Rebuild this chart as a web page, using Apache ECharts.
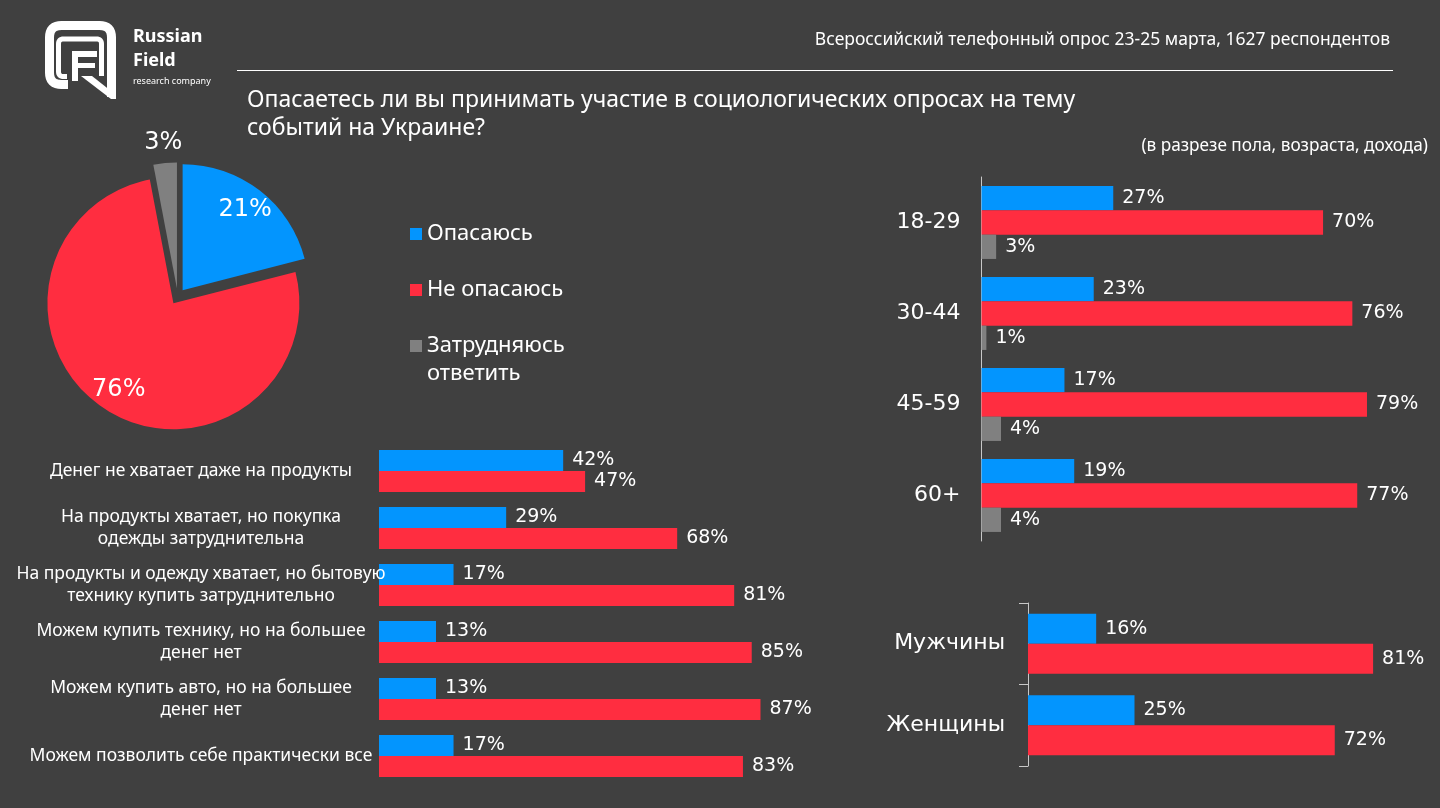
<!DOCTYPE html>
<html>
<head>
<meta charset="utf-8">
<script src="https://cdn.jsdelivr.net/npm/echarts@6/dist/echarts.min.js"></script>
<style>
html,body{margin:0;padding:0;background:#404040;}
#chart{width:1440px;height:808px;}
</style>
</head>
<body>
<div id="chart"></div>
<script>
// ---------- data ----------
const pieNames = ['Опасаюсь', 'Не опасаюсь', 'Затрудняюсь\nответить'];
const pieValues = [21, 76, 3];

const incomeCategories = [
  'Денег не хватает даже на продукты',
  'На продукты хватает, но покупка\nодежды затруднительна',
  'На продукты и одежду хватает, но бытовую\nтехнику купить затруднительно',
  'Можем купить технику, но на большее\nденег нет',
  'Можем купить авто, но на большее\nденег нет',
  'Можем позволить себе практически все'
];
const incomeAfraid = [42, 29, 17, 13, 13, 17];
const incomeNotAfraid = [47, 68, 81, 85, 87, 83];

const ageCategories = ['18-29', '30-44', '45-59', '60+'];
const ageAfraid = [27, 23, 17, 19];
const ageNotAfraid = [70, 76, 79, 77];
const ageUnsure = [3, 1, 4, 4];

const genderCategories = ['Мужчины', 'Женщины'];
const genderAfraid = [16, 25];
const genderNotAfraid = [81, 72];

const BLUE = '#0395fe', RED = '#ff2d40', GRAY = '#808080', BG = '#404040';
const NUM_FONT = 'DejaVu Sans', TXT_FONT = 'Noto Sans';

// ---------- helpers ----------
// rounded polyline through corner points (for the logo outline)
function roundedPath(pts, r) {
  const out = [pts[0]];
  for (let i = 1; i < pts.length - 1; i++) {
    const p0 = pts[i - 1], p = pts[i], p1 = pts[i + 1];
    const d0 = [p0[0] - p[0], p0[1] - p[1]], d1 = [p1[0] - p[0], p1[1] - p[1]];
    const l0 = Math.hypot(d0[0], d0[1]), l1 = Math.hypot(d1[0], d1[1]);
    const a = [p[0] + d0[0] / l0 * r, p[1] + d0[1] / l0 * r];
    const b = [p[0] + d1[0] / l1 * r, p[1] + d1[1] / l1 * r];
    for (let k = 0; k <= 8; k++) {
      const t = k / 8;
      out.push([(1 - t) * (1 - t) * a[0] + 2 * (1 - t) * t * p[0] + t * t * b[0],
                (1 - t) * (1 - t) * a[1] + 2 * (1 - t) * t * p[1] + t * t * b[1]]);
    }
  }
  out.push(pts[pts.length - 1]);
  return out;
}

// ---------- chart ----------
const chart = echarts.init(document.getElementById('chart'), null, {renderer: 'canvas'});

function valueLabel() {
  return {show: true, position: 'right', distance: 9, formatter: '{c}%', color: '#fff',
    fontSize: 19, fontFamily: NUM_FONT};
}
function barSeries(name, data, color, xi, yi, width) {
  return {type: 'bar', name: name, data: data, xAxisIndex: xi, yAxisIndex: yi,
    barWidth: width, barGap: '0%', itemStyle: {color: color}, label: valueLabel(),
    silent: true, legendHoverLink: false};
}

const pieData = pieNames.map((n, i) => ({name: n, value: pieValues[i], selected: true,
  itemStyle: {color: [BLUE, RED, GRAY][i]}}));
const PIE_C = [177.7, 296.5];

const option = {
  backgroundColor: BG,
  animation: false,
  title: [
    {text: 'Опасаетесь ли вы принимать участие в социологических опросах на тему\nсобытий на Украине?',
     left: 247, top: 86, padding: 0,
     textStyle: {color: '#fff', fontSize: 23, lineHeight: 28, fontWeight: 'normal', fontFamily: TXT_FONT}},
    {text: 'Всероссийский телефонный опрос 23-25 марта, 1627 респондентов',
     right: 50, top: 29, padding: 0,
     textStyle: {color: '#fff', fontSize: 17.5, lineHeight: 22, fontWeight: 'normal', fontFamily: TXT_FONT}},
    {text: '(в разрезе пола, возраста, дохода)',
     right: 12, top: 135, padding: 0,
     textStyle: {color: '#fff', fontSize: 17.2, lineHeight: 22, fontWeight: 'normal', fontFamily: TXT_FONT}}
  ],
  legend: [
    {data: [pieNames[0]], left: 410, top: 220},
    {data: [pieNames[1]], left: 410, top: 276},
    {data: [pieNames[2]], left: 410, top: 304}
  ].map(l => Object.assign({
    orient: 'vertical', padding: 0, itemWidth: 12, itemHeight: 12, icon: 'rect',
    selectedMode: false,
    formatter: name => (name === pieNames[2] ? '\n' + name : name),
    textStyle: {color: '#fff', fontSize: 22, lineHeight: 28, fontFamily: TXT_FONT}
  }, l)),
  grid: [
    {left: 379, top: 442.5, width: 438.5, height: 342},
    {left: 981.5, top: 177, width: 453.8, height: 364},
    {left: 1028, top: 603, width: 409, height: 163}
  ],
  xAxis: [
    {type: 'value', gridIndex: 0, min: 0, max: 100, show: false},
    {type: 'value', gridIndex: 1, min: 0, max: 93, show: false},
    {type: 'value', gridIndex: 2, min: 0, max: 96, show: false}
  ],
  yAxis: [
    {type: 'category', gridIndex: 0, data: incomeCategories, inverse: true, z: 5,
     axisLine: {show: false}, axisTick: {show: false},
     axisLabel: {color: '#fff', fontSize: 17.5, lineHeight: 22, fontFamily: TXT_FONT, align: 'center', margin: 178}},
    {type: 'category', gridIndex: 1, data: ageCategories, inverse: true,
     axisLine: {show: true, lineStyle: {color: '#c8c8c8', width: 1}}, axisTick: {show: false},
     axisLabel: {color: '#fff', fontSize: 22, fontFamily: NUM_FONT, margin: 21}},
    {type: 'category', gridIndex: 2, data: genderCategories, inverse: true,
     axisLine: {show: true, lineStyle: {color: '#c8c8c8', width: 1}},
     axisTick: {show: true, length: 9, lineStyle: {color: '#c8c8c8', width: 1}},
     axisLabel: {color: '#fff', fontSize: 22, fontFamily: NUM_FONT, margin: 23}}
  ],
  series: [
    {type: 'pie', name: 'pie', center: PIE_C, radius: 126, startAngle: 90,
     selectedMode: 'multiple', selectedOffset: 8, data: pieData,
     label: {show: false}, labelLine: {show: false}, silent: true},
    {type: 'pie', name: 'pieLabels', z: 5, center: PIE_C, radius: [88, 126], startAngle: 90,
     data: pieNames.map((n, i) => ({name: n, value: pieValues[i], label: {show: i < 2}})),
     itemStyle: {color: 'rgba(0,0,0,0)'}, silent: true, legendHoverLink: false,
     label: {show: true, position: 'inside', formatter: '{c}%', color: '#fff', fontSize: 24, fontFamily: NUM_FONT},
     labelLine: {show: false}},
    {type: 'pie', name: 'pieLabelsOuter', z: 5, center: PIE_C, radius: [138, 164], startAngle: 90,
     data: pieNames.map((n, i) => ({name: n, value: pieValues[i], label: {show: i === 2}})),
     itemStyle: {color: 'rgba(0,0,0,0)'}, silent: true, legendHoverLink: false,
     label: {show: true, position: 'inside', formatter: '{c}%', color: '#fff', fontSize: 24, fontFamily: NUM_FONT},
     labelLine: {show: false}},
    barSeries('Опасаюсь', incomeAfraid, BLUE, 0, 0, 21),
    barSeries('Не опасаюсь', incomeNotAfraid, RED, 0, 0, 21),
    barSeries('Опасаюсь', ageAfraid, BLUE, 1, 1, 24.3),
    barSeries('Не опасаюсь', ageNotAfraid, RED, 1, 1, 24.3),
    barSeries('Затрудняюсь ответить', ageUnsure, GRAY, 1, 1, 24.3),
    barSeries('Опасаюсь', genderAfraid, BLUE, 2, 2, 30),
    barSeries('Не опасаюсь', genderNotAfraid, RED, 2, 2, 30)
  ],
  graphic: [
    {type: 'line', shape: {x1: 237, y1: 70.5, x2: 1393, y2: 70.5}, style: {stroke: '#fff', lineWidth: 1}, silent: true},
    // logo
    {type: 'polyline', shape: {points: roundedPath([[68, 84.5], [49.5, 84.5], [49.5, 25.5], [111.5, 25.5], [111.5, 97]], 12)},
     style: {stroke: '#fff', lineWidth: 9, fill: null}, silent: true},
    {type: 'polyline', shape: {points: roundedPath([[67, 76.5], [58.5, 76.5], [58.5, 39], [101.5, 39], [101.5, 76]], 5)},
     style: {stroke: '#fff', lineWidth: 5, fill: null}, silent: true},
    {type: 'polygon', shape: {points: [[72, 51], [97, 51], [97, 57], [78, 57], [78, 63], [95, 63], [95, 68], [78, 68], [78, 81], [72, 81]]},
     style: {fill: '#fff'}, silent: true},
    {type: 'polygon', shape: {points: [[81, 76], [92, 76], [116, 95], [116, 99], [111, 99]]},
     style: {fill: '#fff'}, silent: true},
    {type: 'text', left: 133, top: 28, style: {text: 'Russian', fill: '#fff', font: 'bold 18px "Noto Sans"'}, silent: true},
    {type: 'text', left: 133, top: 52, style: {text: 'Field', fill: '#fff', font: 'bold 18px "Noto Sans"'}, silent: true},
    {type: 'text', left: 133, top: 77, style: {text: 'research company', fill: '#fff', font: '9px "Noto Sans"'}, silent: true}
  ]
};
chart.setOption(option);
</script>
</body>
</html>
